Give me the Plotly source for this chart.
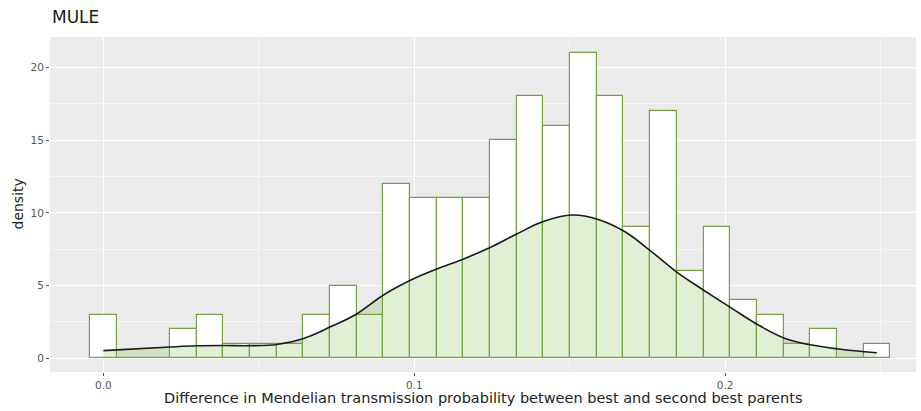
import plotly.graph_objects as go

# Histogram: 30 equal-width bins, first bin centred on 0.0
bin_first_center = 0.0
bin_width = 0.00858
bin_density = [3, 0, 0, 2, 3, 1, 1, 1, 3, 5,
               3, 12, 11, 11, 11, 15, 18, 16, 21, 18,
               9, 17, 6, 9, 4, 3, 1, 2, 0, 1]

# Kernel density estimate of the same values
kde_x = [0.0, 0.0215, 0.030, 0.0385, 0.0472, 0.0558, 0.0642, 0.0729, 0.0815,
         0.0901, 0.0996, 0.1077, 0.1163, 0.1249, 0.1330, 0.1415, 0.1507,
         0.1592, 0.1678, 0.1764, 0.1850, 0.1930, 0.2022, 0.2107, 0.2193,
         0.2279, 0.2364, 0.2450, 0.2488]
kde_y = [0.53, 0.78, 0.86, 0.88, 0.87, 0.95, 1.35, 2.15, 3.05,
         4.35, 5.45, 6.18, 6.87, 7.67, 8.55, 9.40, 9.85,
         9.55, 8.70, 7.32, 5.84, 4.70, 3.43, 2.29, 1.37,
         0.91, 0.64, 0.45, 0.38]

x_tick_vals = [0.0, 0.1, 0.2]
x_tick_text = ["0.0", "0.1", "0.2"]
y_tick_vals = [0, 5, 10, 15, 20]

title_text = "MULE"
x_title = "Difference in Mendelian transmission probability between best and second best parents"
y_title = "density"

GREEN = "#74A047"
FONT = "DejaVu Sans"

bin_centers = [bin_first_center + i * bin_width for i in range(len(bin_density))]

fig = go.Figure()
fig.add_trace(go.Bar(
    x=bin_centers, y=bin_density, width=bin_width,
    marker=dict(color="white", line=dict(color=GREEN, width=1.2)),
    hoverinfo="skip",
))
fig.add_trace(go.Scatter(
    x=kde_x, y=kde_y, mode="lines", line=dict(color="#1a1a1a", width=1.6, shape="spline"),
    fill="tozeroy", fillcolor="rgba(120,180,60,0.22)", hoverinfo="skip",
))

fig.update_layout(
    width=921, height=411,
    margin=dict(l=50, r=5, t=37, b=39),
    paper_bgcolor="white", plot_bgcolor="#EBEBEB",
    showlegend=False, barmode="overlay", bargap=0,
    font=dict(family=FONT, color="#4D4D4D"),
    xaxis=dict(
        range=[-0.01716, 0.2614],
        tickvals=x_tick_vals, ticktext=x_tick_text,
        ticks="outside", ticklen=3, tickcolor="#555555", tickwidth=1,
        tickfont=dict(size=10.5, color="#555555"),
        showgrid=True, gridcolor="white", gridwidth=1.2, zeroline=False,
        minor=dict(tick0=0.05, dtick=0.1, showgrid=True, gridcolor="#F5F5F5", gridwidth=0.6),
        showline=False,
    ),
    yaxis=dict(
        range=[-0.94, 22.09],
        tickvals=y_tick_vals,
        ticks="outside", ticklen=3, tickcolor="#555555", tickwidth=1,
        tickfont=dict(size=10.5, color="#555555"),
        showgrid=True, gridcolor="white", gridwidth=1.2, zeroline=False,
        minor=dict(tick0=2.5, dtick=5, showgrid=True, gridcolor="#F5F5F5", gridwidth=0.6),
        showline=False,
    ),
    annotations=[
        dict(text=title_text, xref="paper", yref="paper", x=0, y=1, xanchor="left",
             yanchor="bottom", yshift=8, showarrow=False,
             font=dict(family=FONT, size=17, color="#1a1a1a")),
        dict(text=x_title, xref="paper", yref="paper", x=0.5, y=-0.078, xanchor="center",
             yanchor="middle", showarrow=False,
             font=dict(family=FONT, size=14.5, color="#222222")),
        dict(text=y_title, xref="paper", yref="paper", x=(17 - 50) / 866, y=0.5,
             xanchor="center", yanchor="middle", textangle=-90, showarrow=False,
             font=dict(family=FONT, size=14, color="#222222")),
    ],
)

fig.write_html("out.html")
